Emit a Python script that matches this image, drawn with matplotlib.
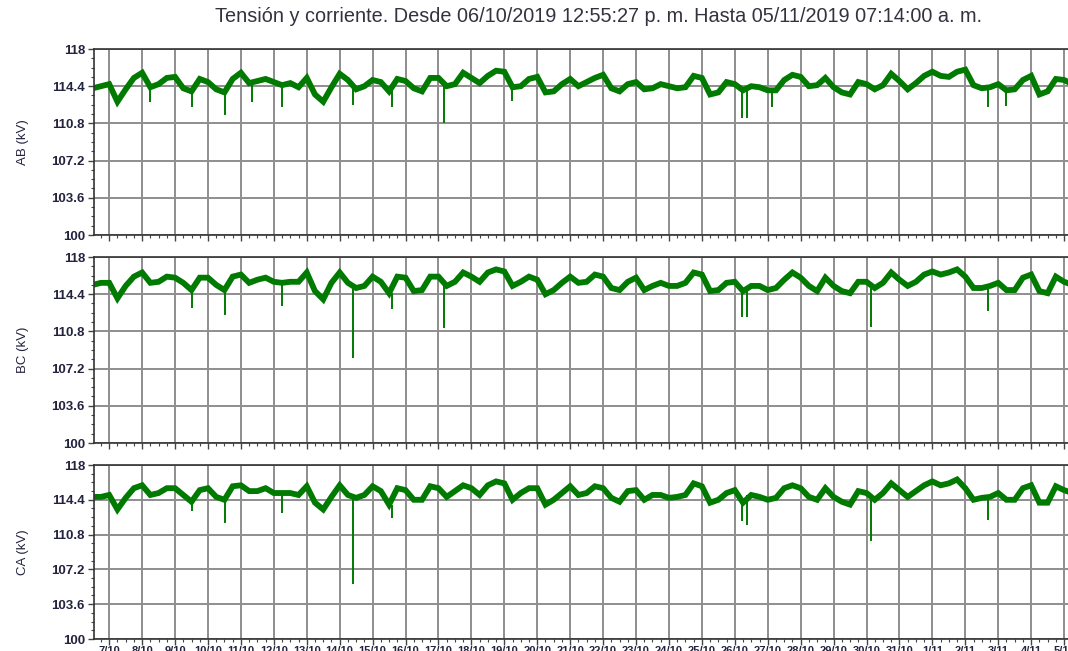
import matplotlib
matplotlib.use("Agg")
import matplotlib.pyplot as plt
import matplotlib.dates as mdates
from matplotlib.ticker import FixedLocator, FuncFormatter
import numpy as np
import pandas as pd

# 6-hourly readings from 06/10/2019 12:00, values in kV
t_start = pd.Timestamp("2019-10-06 12:55:27")
t_end = pd.Timestamp("2019-11-05 07:14:00")
times = pd.date_range("2019-10-06 12:00", periods=120, freq="6h")

ab = [114.2, 114.4, 114.6, 112.9, 114.1, 115.2, 115.7, 114.3, 114.6, 115.2,
      115.3, 114.2, 113.9, 115.1, 114.8, 114.1, 113.8, 115.1, 115.7, 114.7,
      114.9, 115.1, 114.8, 114.5, 114.7, 114.3, 115.2, 113.6, 112.9, 114.3,
      115.6, 115.0, 114.1, 114.4, 115.0, 114.8, 113.9, 115.1, 114.9, 114.2,
      113.9, 115.2, 115.2, 114.4, 114.6, 115.7, 115.2, 114.7, 115.4, 115.9,
      115.8, 114.3, 114.4, 115.1, 115.3, 113.8, 113.9, 114.6, 115.1, 114.4,
      114.8, 115.2, 115.5, 114.2, 113.9, 114.6, 114.8, 114.1, 114.2, 114.6,
      114.4, 114.2, 114.3, 115.4, 115.2, 113.6, 113.8, 114.8, 114.6, 114.0,
      114.4, 114.3, 114.0, 114.0, 115.0, 115.5, 115.3, 114.4, 114.5, 115.2,
      114.3, 113.8, 113.6, 114.8, 114.6, 114.1, 114.5, 115.6, 114.9, 114.1,
      114.7, 115.4, 115.8, 115.4, 115.3, 115.8, 116.0, 114.5, 114.2, 114.3,
      114.6, 114.0, 114.1, 115.0, 115.4, 113.6, 113.9, 115.1, 115.0, 114.6]

bc = [115.3, 115.5, 115.5, 114.0, 115.2, 116.1, 116.5, 115.5, 115.6, 116.1,
      116.0, 115.5, 114.8, 116.0, 116.0, 115.3, 114.8, 116.1, 116.3, 115.5,
      115.8, 116.0, 115.6, 115.5, 115.6, 115.6, 116.5, 114.7, 113.9, 115.5,
      116.5, 115.5, 115.0, 115.2, 116.1, 115.6, 114.5, 116.1, 116.0, 114.7,
      114.8, 116.1, 116.1, 115.2, 115.6, 116.5, 116.1, 115.6, 116.5, 116.8,
      116.6, 115.2, 115.6, 116.1, 115.8, 114.4, 114.8, 115.5, 116.1, 115.5,
      115.6, 116.3, 116.1, 115.0, 114.8, 115.6, 116.0, 114.8, 115.2, 115.5,
      115.2, 115.2, 115.5, 116.5, 116.3, 114.7, 114.8, 115.5, 115.6, 114.7,
      115.2, 115.2, 114.8, 115.0, 115.8, 116.5, 116.0, 115.2, 114.7, 116.0,
      115.2, 114.7, 114.5, 115.6, 115.6, 115.0, 115.5, 116.5, 115.8, 115.2,
      115.6, 116.3, 116.6, 116.3, 116.5, 116.8, 116.1, 115.0, 115.0, 115.2,
      115.5, 114.8, 114.8, 116.0, 116.3, 114.7, 114.5, 116.1, 115.6, 115.3]

ca = [114.7, 114.7, 114.9, 113.4, 114.6, 115.6, 115.9, 114.9, 115.1, 115.6,
      115.6, 114.9, 114.2, 115.4, 115.6, 114.7, 114.4, 115.8, 115.9, 115.3,
      115.3, 115.6, 115.1, 115.1, 115.1, 114.9, 115.8, 114.1, 113.4, 114.7,
      115.9, 114.9, 114.6, 114.9, 115.8, 115.3, 113.9, 115.6, 115.4, 114.4,
      114.4, 115.8, 115.6, 114.7, 115.3, 115.9, 115.6, 114.9, 115.9, 116.3,
      116.1, 114.4, 115.1, 115.6, 115.6, 113.9, 114.4, 115.1, 115.8, 114.9,
      115.1, 115.8, 115.6, 114.6, 114.2, 115.3, 115.4, 114.4, 114.9, 114.9,
      114.6, 114.7, 114.9, 116.1, 115.8, 114.1, 114.4, 115.1, 115.4, 114.1,
      114.9, 114.7, 114.4, 114.6, 115.6, 115.9, 115.6, 114.7, 114.4, 115.6,
      114.7, 114.2, 113.9, 115.3, 115.1, 114.4, 115.1, 116.1, 115.4, 114.7,
      115.3, 115.9, 116.3, 115.9, 116.1, 116.5, 115.6, 114.4, 114.6, 114.7,
      115.1, 114.4, 114.4, 115.6, 115.9, 114.1, 114.1, 115.8, 115.4, 115.1]

# short dips (time, lowest value)
ab_dip_t = ["2019-10-08 05:40", "2019-10-09 12:20", "2019-10-10 12:25", "2019-10-11 08:05",
            "2019-10-12 06:00", "2019-10-14 09:45", "2019-10-15 14:15", "2019-10-17 04:10",
            "2019-10-19 05:45", "2019-10-26 05:30", "2019-10-26 09:10", "2019-10-27 03:20",
            "2019-11-02 16:20", "2019-11-03 05:20"]
ab_dip_v = [112.9, 112.4, 111.6, 112.9, 112.4, 112.6, 112.4, 110.8,
            113.0, 111.3, 111.3, 112.4, 112.4, 112.5]

bc_dip_t = ["2019-10-09 12:20", "2019-10-10 12:25", "2019-10-12 06:00", "2019-10-14 09:45",
            "2019-10-15 14:15", "2019-10-17 04:10", "2019-10-26 05:30", "2019-10-26 09:10",
            "2019-10-30 03:35", "2019-11-02 16:20"]
bc_dip_v = [113.1, 112.4, 113.3, 108.2, 113.0, 111.1, 112.2, 112.2, 111.2, 112.8]

ca_dip_t = ["2019-10-09 12:20", "2019-10-10 12:25", "2019-10-12 06:00", "2019-10-14 09:45",
            "2019-10-15 14:15", "2019-10-26 05:30", "2019-10-26 09:10", "2019-10-30 03:35",
            "2019-11-02 16:20"]
ca_dip_v = [113.2, 112.0, 113.0, 105.7, 112.5, 112.2, 111.8, 110.1, 112.3]

panels = [("AB (kV)", ab, ab_dip_t, ab_dip_v),
          ("BC (kV)", bc, bc_dip_t, bc_dip_v),
          ("CA (kV)", ca, ca_dip_t, ca_dip_v)]

yticks = [100, 103.6, 107.2, 110.8, 114.4, 118]
ylabels = ["100", "103.6", "107.2", "110.8", "114.4", "118"]

W, H = 1068, 651
fig = plt.figure(figsize=(W / 100, H / 100), dpi=100)

# pixel boxes (top, bottom) of each panel
boxes = [(49, 235), (257, 443), (465, 639)]
x0, x1 = 94, 1074

txt = "#23233f"
green = "#007a00"
for i, (lab, vals, dt, dv) in enumerate(panels):
    top, bot = boxes[i]
    ax = fig.add_axes([x0 / W, 1 - bot / H, (x1 - x0) / W, (bot - top) / H])
    ax.plot(times, vals, color=green, lw=4.2, solid_joinstyle="miter")
    tnum = mdates.date2num(times)
    for t, v in zip(dt, dv):
        tt = mdates.date2num(pd.Timestamp(t))
        j = np.argmin(np.abs(tnum - tt))
        ax.vlines(pd.Timestamp(t), v, vals[j], color=green, lw=1.4)

    ax.set_xlim(t_start, t_end)
    ax.set_ylim(100, 118)
    ax.set_yticks(yticks)
    ax.set_yticklabels(ylabels)
    ax.yaxis.set_minor_locator(FixedLocator(np.arange(100, 118.01, 0.9)))
    ax.xaxis.set_major_locator(mdates.DayLocator())
    ax.xaxis.set_minor_locator(mdates.HourLocator(byhour=[6, 12, 18]))
    ax.xaxis.set_major_formatter(FuncFormatter(
        lambda x, pos: f"{mdates.num2date(x).day}/{mdates.num2date(x).month}"))
    ax.grid(which="major", color="#8e8e8e", lw=1.4)
    ax.set_axisbelow(True)
    for s in ["left", "bottom", "top"]:
        ax.spines[s].set_color("#333333")
        ax.spines[s].set_linewidth(1.2)
    ax.spines["right"].set_visible(False)
    ax.tick_params(which="major", direction="out", length=4.5, width=1, color="#444444",
                   labelsize=9.5, labelcolor=txt, pad=2)
    ax.tick_params(which="minor", direction="out", length=2.5, width=0.8, color="#444444")
    for tl in ax.get_yticklabels():
        tl.set_fontweight("bold")
        tl.set_family("Liberation Sans")
    if i < 2:
        ax.tick_params(axis="x", labelbottom=False)
    else:
        ax.tick_params(axis="x", which="major", pad=0.5)
        for tl in ax.get_xticklabels():
            tl.set_family("Liberation Sans")
            tl.set_fontweight("bold")
            tl.set_fontsize(8)
    ax.set_ylabel(lab, fontsize=9.5, color=txt, family="Liberation Sans", labelpad=16)

fig.text(0.560, 0.975, "Tensión y corriente. Desde 06/10/2019 12:55:27 p. m. Hasta 05/11/2019 07:14:00 a. m.",
         ha="center", va="center", fontsize=14.3, color="#333340", family="Liberation Sans")

fig.savefig("out.png", dpi=100)
